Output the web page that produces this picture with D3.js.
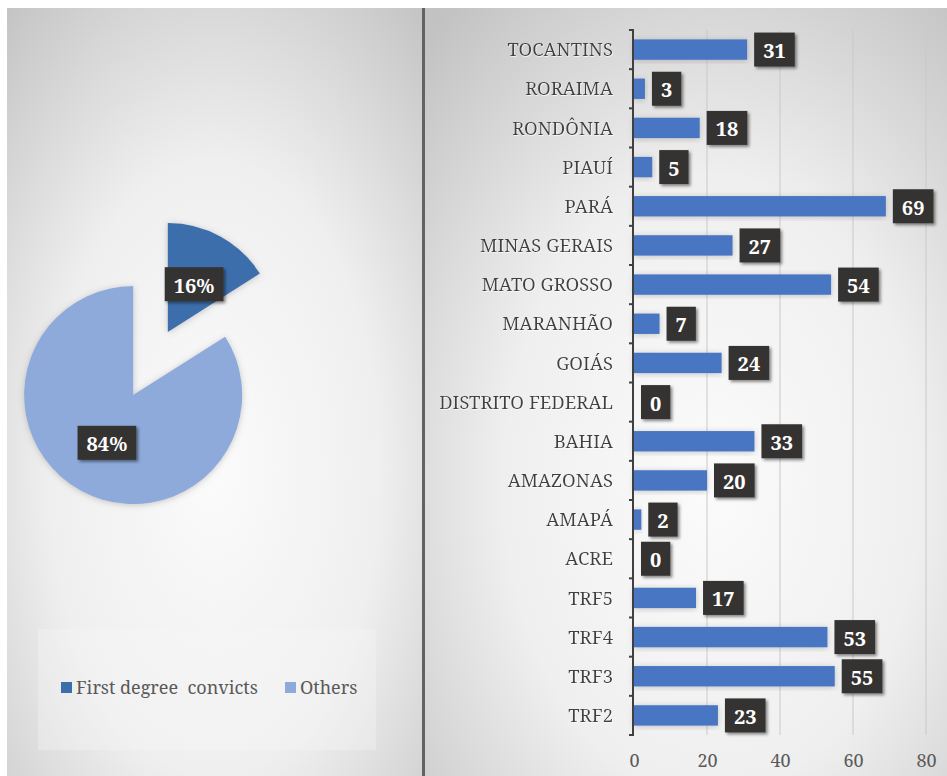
<!DOCTYPE html>
<html>
<head>
<meta charset="utf-8">
<script src="https://cdn.jsdelivr.net/npm/d3@7"></script>
<style>
  html, body { margin: 0; padding: 0; background: #ffffff; }
  svg { display: block; }
  svg text { font-family: "Noto Serif", "Liberation Serif", serif; }
</style>
</head>
<body>
<div id="chart"></div>
<script>
// Share of first degree convicts
const pieLabels = ["First degree  convicts", "Others"];
const pieValues = [16, 84];
const pieColors = ["#3d6eac", "#8eaadb"];

// Convictions by court / state
const categories = [
  "TOCANTINS", "RORAIMA", "RONDÔNIA", "PIAUÍ", "PARÁ", "MINAS GERAIS",
  "MATO GROSSO", "MARANHÃO", "GOIÁS", "DISTRITO FEDERAL", "BAHIA",
  "AMAZONAS", "AMAPÁ", "ACRE", "TRF5", "TRF4", "TRF3", "TRF2"
];
const values = [31, 3, 18, 5, 69, 27, 54, 7, 24, 0, 33, 20, 2, 0, 17, 53, 55, 23];
const xTicks = [0, 20, 40, 60, 80];

const W = 947, H = 776;

const svg = d3.select("#chart").append("svg")
  .attr("width", W).attr("height", H);

const defs = svg.append("defs");

function panelGradient(id, cx, cy) {
  const g = defs.append("radialGradient").attr("id", id)
    .attr("cx", cx).attr("cy", cy).attr("r", "0.8");
  g.append("stop").attr("offset", "0").attr("stop-color", "#fbfbfb");
  g.append("stop").attr("offset", "0.5").attr("stop-color", "#efefef");
  g.append("stop").attr("offset", "1").attr("stop-color", "#c2c2c2");
}
panelGradient("bgLeft", "0.5", "0.6");
panelGradient("bgRight", "0.55", "0.62");

const shadow = defs.append("filter").attr("id", "boxShadow")
  .attr("x", "-30%").attr("y", "-30%").attr("width", "170%").attr("height", "170%");
shadow.append("feDropShadow").attr("dx", 2).attr("dy", 2).attr("stdDeviation", 1.6)
  .attr("flood-color", "#000").attr("flood-opacity", 0.45);

const softShadow = defs.append("filter").attr("id", "softShadow")
  .attr("x", "-20%").attr("y", "-20%").attr("width", "140%").attr("height", "140%");
softShadow.append("feDropShadow").attr("dx", 0).attr("dy", 1).attr("stdDeviation", 3)
  .attr("flood-color", "#6a6a6a").attr("flood-opacity", 0.35);

const textShadow = defs.append("filter").attr("id", "textShadow");
textShadow.append("feDropShadow").attr("dx", 0.6).attr("dy", 0.8).attr("stdDeviation", 0.6)
  .attr("flood-color", "#ffffff").attr("flood-opacity", 0.9);

// Panels
svg.append("rect").attr("x", 7).attr("y", 8).attr("width", 415).attr("height", H - 8)
  .attr("fill", "url(#bgLeft)");
svg.append("rect").attr("x", 425).attr("y", 8).attr("width", W - 425).attr("height", H - 8)
  .attr("fill", "url(#bgRight)");
svg.append("rect").attr("x", 422).attr("y", 8).attr("width", 3).attr("height", H - 8)
  .attr("fill", "#626262");

// Dark value tag with white bold text
function tag(g, x, y, text, anchor) {
  const t = g.append("text")
    .attr("font-weight", "bold")
    .attr("font-size", 20).attr("fill", "#ffffff")
    .attr("dominant-baseline", "central")
    .text(text);
  const w = t.node().getComputedTextLength();
  const padX = 9, h = 34;
  const left = anchor === "middle" ? x - (w + 2 * padX) / 2 : x;
  g.insert("rect", () => t.node())
    .attr("x", left).attr("y", y - h / 2)
    .attr("width", w + 2 * padX).attr("height", h)
    .attr("fill", "#343331").attr("filter", "url(#boxShadow)");
  t.attr("x", left + padX).attr("y", y + 1);
}

// ---- Pie ----
const pieCx = 150.5, pieCy = 363.5, radius = 109, explode = 36;
const pie = d3.pie().sort(null).value(d => d)(pieValues);
const arc = d3.arc().innerRadius(0).outerRadius(radius);
const pieG = svg.append("g").attr("transform", `translate(${pieCx},${pieCy})`);

const offset = d => {
  const a = (d.startAngle + d.endAngle) / 2;
  return [Math.sin(a) * explode, -Math.cos(a) * explode];
};

const slices = pieG.selectAll("g.slice").data(pie).join("g")
  .attr("class", "slice")
  .attr("transform", d => `translate(${offset(d)})`);
slices.append("path").attr("d", arc)
  .attr("fill", (d, i) => pieColors[i])
  .attr("filter", "url(#softShadow)");
slices.each(function (d) {
  const [cx, cy] = arc.centroid(d);
  const pct = Math.round(100 * d.value / d3.sum(pieValues)) + "%";
  tag(d3.select(this), cx, cy, pct, "middle");
});

// Legend
svg.append("rect").attr("x", 38).attr("y", 629).attr("width", 338).attr("height", 121)
  .attr("fill", "#f6f6f6").attr("opacity", 0.35);
const legend = svg.append("g");
const legendX = [61, 285];
pieLabels.forEach((lab, i) => {
  legend.append("rect").attr("x", legendX[i]).attr("y", 682)
    .attr("width", 11).attr("height", 11).attr("fill", pieColors[i]);
  legend.append("text").attr("x", legendX[i] + 15).attr("y", 694)
    .attr("font-size", 18).attr("fill", "#595959")
    .style("white-space", "pre")
    .text(lab);
});

// ---- Bar chart ----
const x = d3.scaleLinear().domain([0, 80]).range([634, 926]);
const y = d3.scaleBand().domain(categories).range([30, 735])
  .paddingInner(0.48).paddingOuter(0.24);

const plot = svg.append("g");

// Gridlines
plot.selectAll("line.grid").data(xTicks.slice(1)).join("line")
  .attr("class", "grid")
  .attr("x1", d => x(d)).attr("x2", d => x(d))
  .attr("y1", 30).attr("y2", 735)
  .attr("stroke", "#c9c9c9").attr("stroke-width", 1);

// X axis labels
const xAxis = d3.axisBottom(x).tickValues(xTicks).tickSize(0).tickPadding(0);
const xg = plot.append("g").attr("transform", "translate(0,753)").call(xAxis);
xg.select(".domain").remove();
xg.attr("font-family", null);
xg.selectAll("text")
  .attr("font-size", 18).attr("fill", "#595959")
  .attr("dy", "0.75em");

// Bars
plot.selectAll("rect.bar").data(categories).join("rect")
  .attr("class", "bar")
  .attr("x", x(0)).attr("y", d => y(d))
  .attr("width", (d, i) => x(values[i]) - x(0))
  .attr("height", y.bandwidth())
  .attr("fill", "#4876c2")
  .attr("filter", "url(#softShadow)");

// Category axis with boundary ticks
const yAxis = d3.axisLeft(y).tickSize(0).tickPadding(21);
const yg = plot.append("g").attr("transform", `translate(${x(0)},0)`).call(yAxis);
yg.select(".domain").remove();
yg.attr("font-family", null);
yg.selectAll("text")
  .attr("font-size", 18.5).attr("fill", "#404040")
  .attr("dy", "0.36em")
  .attr("filter", "url(#textShadow)");

const step = y.step();
const boundaries = d3.range(categories.length + 1).map(i => y.range()[0] + i * step);
plot.selectAll("line.ytick").data(boundaries).join("line")
  .attr("class", "ytick")
  .attr("x1", x(0) - 5).attr("x2", x(0))
  .attr("y1", d => d).attr("y2", d => d)
  .attr("stroke", "#404040").attr("stroke-width", 2);
plot.append("line")
  .attr("x1", x(0) - 1).attr("x2", x(0) - 1)
  .attr("y1", boundaries[0] - 1).attr("y2", boundaries[boundaries.length - 1] + 1)
  .attr("stroke", "#404040").attr("stroke-width", 2);

// Value tags
categories.forEach((c, i) => {
  tag(plot, x(values[i]) + 7, y(c) + y.bandwidth() / 2, String(values[i]), "start");
});
</script>
</body>
</html>
